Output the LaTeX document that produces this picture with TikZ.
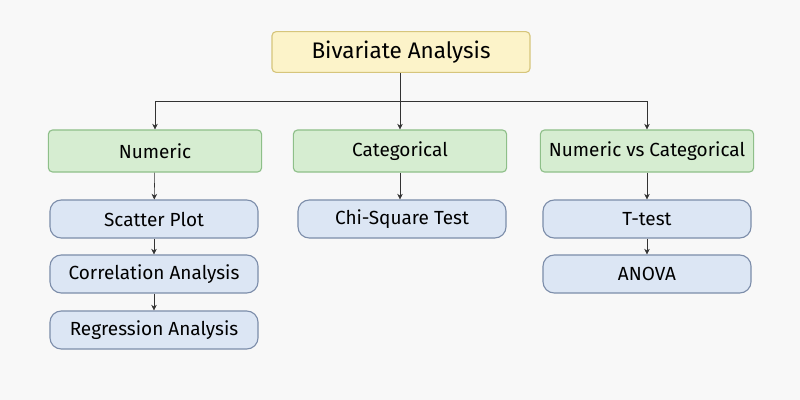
\documentclass[tikz,border=0pt]{standalone}
\usepackage{fontspec}
\setmainfont{Fira Sans}
\usetikzlibrary{positioning,arrows.meta}
\definecolor{rootfill}{HTML}{FCF3C9}
\definecolor{rootline}{HTML}{D6C57C}
\definecolor{catfill}{HTML}{D6EDD1}
\definecolor{catline}{HTML}{8EBF89}
\definecolor{testfill}{HTML}{DCE6F4}
\definecolor{testline}{HTML}{7C8DAA}
\definecolor{bgfill}{HTML}{F8F8F8}
\tikzset{
  rootbox/.style={draw=rootline, fill=rootfill, rounded corners=3pt, thick,
    minimum width=6.45cm, minimum height=1.02cm, font=\fontsize{16}{18}\selectfont},
  catbox/.style={draw=catline, fill=catfill, rounded corners=3pt, thick,
    minimum width=5.33cm, minimum height=1.05cm, font=\fontsize{13.5}{15}\selectfont},
  testbox/.style={draw=testline, fill=testfill, rounded corners=8pt, thick,
    minimum width=5.2cm, minimum height=0.95cm, font=\fontsize{13.5}{15}\selectfont},
  link/.style={-{Stealth[length=4pt,width=4pt]}, thin, black!80}
}
\begin{document}
\begin{tikzpicture}[x=0.025cm, y=-0.025cm]
    % Background
    \fill [bgfill] (0, 0) rectangle (800, 400);

    % Root
    \node [rootbox] (root) at (401, 52) {Bivariate Analysis};

    % Categories
    \node [catbox] (num) at (155, 151) {Numeric};
    \node [catbox] (cat) at (400, 151) {Categorical};
    \node [catbox] (mix) at (647, 151) {Numeric vs Categorical};

    % Tests
    \node [testbox] (scatter) at (154, 219) {Scatter Plot};
    \node [testbox] (corr) at (154, 274) {Correlation Analysis};
    \node [testbox] (regr) at (154, 330) {Regression Analysis};
    \node [testbox] (chi) at (402, 219) {Chi-Square Test};
    \node [testbox] (ttest) at (647, 219) {T-test};
    \node [testbox] (anova) at (647, 274) {ANOVA};

    % Connections
    \coordinate (split) at (400, 101);
    \draw [thin, black!80] (root.south -| split) -- (split);
    \draw [link] (split) -| (num.north);
    \draw [link] (split) -- (cat.north);
    \draw [link] (split) -| (mix.north);

    \draw [link] (num) -- (scatter);
    \draw [link] (scatter) -- (corr);
    \draw [link] (corr) -- (regr);
    \draw [link] (cat.south) -- (cat.south |- chi.north);
    \draw [link] (mix) -- (ttest);
    \draw [link] (ttest) -- (anova);
\end{tikzpicture}
\end{document}
